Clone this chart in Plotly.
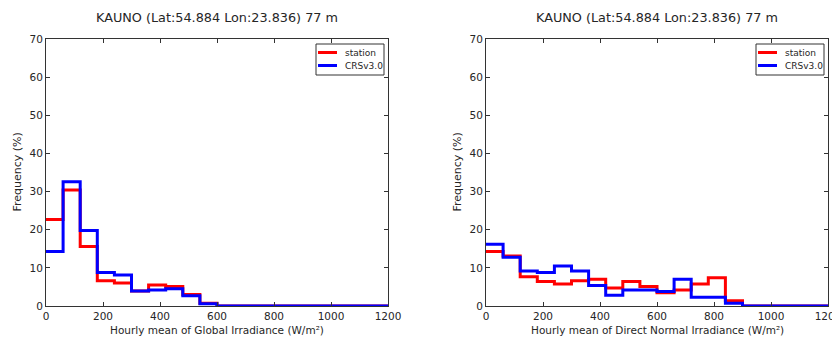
import plotly.graph_objects as go

# Bin edges (W/m2), 60 W/m2 bins from 0 to 1200
bin_edges = list(range(0, 1201, 60))

# Global irradiance histogram (%)
ghi_station = [22.7, 30.4, 15.6, 6.6, 6.0, 3.9, 5.5, 5.1, 3.0, 0.7,
               0, 0, 0, 0, 0, 0, 0, 0, 0, 0]
ghi_crs = [14.3, 32.6, 19.8, 8.8, 8.1, 3.9, 4.2, 4.5, 2.7, 0.6,
           0, 0, 0, 0, 0, 0, 0, 0, 0, 0]

# Direct normal irradiance histogram (%)
dni_station = [14.3, 13.1, 7.7, 6.4, 5.8, 6.6, 7.0, 4.7, 6.4, 5.1,
               3.5, 4.2, 5.8, 7.4, 1.4, 0, 0, 0, 0, 0]
dni_crs = [16.2, 12.8, 9.2, 8.8, 10.5, 9.2, 5.4, 2.8, 4.2, 4.2,
           3.8, 7.0, 2.3, 2.3, 0.7, 0, 0, 0, 0, 0]

title_text = "KAUNO (Lat:54.884 Lon:23.836) 77 m"
xlabels = ["Hourly mean of Global Irradiance (W/m²)",
           "Hourly mean of Direct Normal Irradiance (W/m²)"]
ylabel = "Frequency (%)"
series_names = ["station", "CRSv3.0"]
series_colors = ["#ff0000", "#0000ff"]
x_ticks = list(range(0, 1201, 200))
y_ticks = list(range(0, 71, 10))

# page body has an 8px margin; size the figure so it fits the window
OFF = 8
W, H = 840 - OFF, 338 - OFF
FONT = "DejaVu Sans"
TXT = "#262626"
FRAME = "#333333"


def px(x):
    return (x - OFF) / W


def py(y):
    return 1 - (y - OFF) / H


def step_xy(vals):
    xs = bin_edges + [bin_edges[-1]]
    ys = list(vals) + [vals[-1]] + [0]
    return xs, ys


fig = go.Figure()

panels = [
    dict(data=[ghi_station, ghi_crs], x0=46, x1=388, xa="x", ya="y", leg_left=316),
    dict(data=[dni_station, dni_crs], x0=486, x1=828, xa="x2", ya="y2", leg_left=756),
]
ydom = [py(306), py(39)]

for i, p in enumerate(panels):
    for vals, name, col in zip(p["data"], series_names, series_colors):
        xs, ys = step_xy(vals)
        fig.add_trace(go.Scatter(
            x=xs, y=ys, mode="lines", name=name,
            line=dict(color=col, width=3, shape="hv"),
            xaxis=p["xa"], yaxis=p["ya"],
            showlegend=False, hoverinfo="skip",
        ))

axis_common = dict(
    showgrid=False, zeroline=False, showline=True, linecolor=FRAME, linewidth=1,
    mirror="ticks", ticks="inside", ticklen=4, tickcolor=FRAME,
    tickfont=dict(family=FONT, size=10.5, color=TXT), automargin=False,
    ticklabeloverflow="allow",
)

fig.update_layout(
    width=W, height=H,
    margin=dict(l=0, r=0, t=0, b=0, autoexpand=False),
    paper_bgcolor="white", plot_bgcolor="white",
    font=dict(family=FONT, color=TXT),
    showlegend=False,
    xaxis=dict(domain=[px(panels[0]["x0"]), px(panels[0]["x1"])], range=[0, 1200],
               tickvals=x_ticks, anchor="y", **axis_common),
    yaxis=dict(domain=ydom, range=[0, 70], tickvals=y_ticks, anchor="x", **axis_common),
    xaxis2=dict(domain=[px(panels[1]["x0"]), px(panels[1]["x1"])], range=[0, 1200],
                tickvals=x_ticks, anchor="y2", **axis_common),
    yaxis2=dict(domain=ydom, range=[0, 70], tickvals=y_ticks, anchor="x2", **axis_common),
)

annotations = []
shapes = []
for i, p in enumerate(panels):
    cx = (px(p["x0"]) + px(p["x1"])) / 2
    annotations.append(dict(text=title_text, x=cx, y=py(18), xref="paper", yref="paper",
                            showarrow=False, font=dict(family=FONT, size=12.8, color=TXT),
                            xanchor="center", yanchor="middle"))
    annotations.append(dict(text=xlabels[i], x=cx, y=py(330), xref="paper", yref="paper",
                            showarrow=False, font=dict(family=FONT, size=10.5, color=TXT),
                            xanchor="center", yanchor="middle"))
    annotations.append(dict(text=ylabel, x=px(p["x0"] - 29), y=(ydom[0] + ydom[1]) / 2,
                            xref="paper", yref="paper", textangle=-90,
                            showarrow=False, font=dict(family=FONT, size=11, color=TXT),
                            xanchor="center", yanchor="middle"))
    # legend box (upper right of each panel)
    L = p["leg_left"]
    shapes.append(dict(type="rect", xref="paper", yref="paper",
                       x0=px(L), x1=px(L + 68), y0=py(75), y1=py(44),
                       line=dict(color=FRAME, width=1), fillcolor="white", layer="above"))
    for k, (name, col) in enumerate(zip(series_names, series_colors)):
        yy = 52.5 + k * 13
        shapes.append(dict(type="line", xref="paper", yref="paper",
                           x0=px(L + 2), x1=px(L + 21), y0=py(yy), y1=py(yy),
                           line=dict(color=col, width=3), layer="above"))
        annotations.append(dict(text=name, x=px(L + 27), y=py(yy), xref="paper", yref="paper",
                                showarrow=False, font=dict(family=FONT, size=9, color=TXT),
                                xanchor="left", yanchor="middle"))

fig.update_layout(annotations=annotations, shapes=shapes)

fig.write_html("out.html")
